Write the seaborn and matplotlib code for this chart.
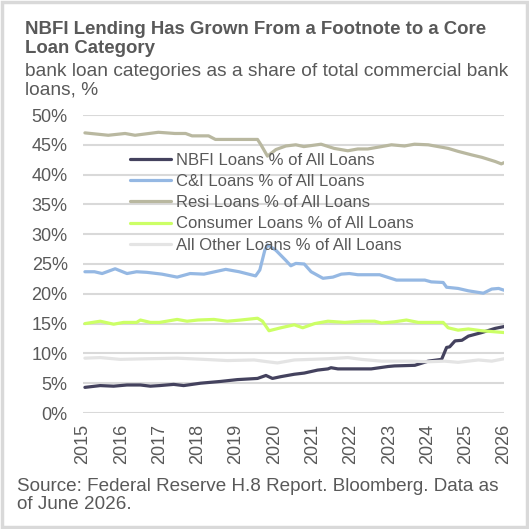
import matplotlib
matplotlib.use("Agg")
import matplotlib.pyplot as plt
from matplotlib.patches import Rectangle
import seaborn as sns
import pandas as pd

# series values (fractional year, percent)
nbfi_x = [2015.05, 2015.45, 2015.8, 2016.15, 2016.5, 2016.76, 2017.0, 2017.37, 2017.63,
          2018.07, 2018.6, 2019.03, 2019.56, 2019.78, 2019.95, 2020.17, 2020.52, 2020.78,
          2021.13, 2021.4, 2021.48, 2021.66, 2022.53, 2022.97, 2023.14, 2023.67, 2024.02,
          2024.37, 2024.5, 2024.58, 2024.72, 2024.9, 2025.07, 2025.42, 2025.77, 2026.0]
nbfi_y = [4.3, 4.6, 4.5, 4.7, 4.7, 4.5, 4.6, 4.8, 4.6,
          5.0, 5.3, 5.6, 5.8, 6.3, 5.8, 6.1, 6.5, 6.7,
          7.2, 7.4, 7.6, 7.4, 7.4, 7.8, 7.9, 8.0, 8.7,
          9.0, 11.0, 11.1, 12.1, 12.2, 12.9, 13.5, 14.2, 14.5]

ci_x = [2015.05, 2015.3, 2015.5, 2015.84, 2016.15, 2016.4, 2016.67, 2017.06, 2017.46,
        2017.8, 2018.16, 2018.73, 2019.08, 2019.51, 2019.62, 2019.75, 2019.82, 2020.04,
        2020.3, 2020.43, 2020.56, 2020.78, 2020.96, 2021.27, 2021.53, 2021.75, 2021.96,
        2022.18, 2022.75, 2023.19, 2023.93, 2024.1, 2024.41, 2024.5, 2024.8, 2025.07,
        2025.46, 2025.68, 2025.86, 2026.0]
ci_y = [23.7, 23.7, 23.4, 24.2, 23.4, 23.7, 23.6, 23.3, 22.8,
        23.4, 23.3, 24.1, 23.7, 23.0, 24.0, 27.3, 28.2, 27.3,
        25.6, 24.7, 25.1, 25.0, 23.7, 22.6, 22.8, 23.3, 23.4,
        23.2, 23.2, 22.3, 22.3, 22.0, 21.9, 21.1, 20.9, 20.5,
        20.1, 20.8, 20.9, 20.6]

resi_x = [2015.05, 2015.66, 2016.1, 2016.36, 2016.97, 2017.4, 2017.68, 2017.85, 2018.28,
          2018.46, 2019.56, 2019.65, 2019.82, 2020.04, 2020.3, 2020.56, 2020.77, 2021.22,
          2021.56, 2021.92, 2022.18, 2022.44, 2022.8, 2023.06, 2023.4, 2023.66, 2024.02,
          2024.28, 2024.54, 2024.8, 2025.16, 2025.42, 2025.77, 2025.93, 2026.0]
resi_y = [47.0, 46.6, 46.9, 46.6, 47.1, 46.9, 46.9, 46.5, 46.5,
          45.9, 45.9, 45.0, 43.1, 44.2, 44.8, 45.0, 44.7, 45.1,
          44.4, 44.0, 44.3, 44.3, 44.7, 45.0, 44.8, 45.1, 45.0,
          44.7, 44.4, 43.9, 43.3, 42.9, 42.2, 41.8, 42.0]

cons_x = [2015.05, 2015.45, 2015.8, 2016.06, 2016.4, 2016.5, 2016.76, 2017.0, 2017.46,
          2017.72, 2018.0, 2018.42, 2018.77, 2019.12, 2019.56, 2019.69, 2019.86, 2020.17,
          2020.52, 2020.74, 2021.05, 2021.4, 2021.84, 2022.27, 2022.62, 2022.8, 2023.14,
          2023.45, 2023.76, 2024.41, 2024.54, 2024.8, 2025.07, 2025.42, 2026.0]
cons_y = [15.0, 15.4, 14.9, 15.2, 15.2, 15.6, 15.2, 15.2, 15.7,
          15.4, 15.6, 15.7, 15.4, 15.6, 15.9, 15.4, 13.8, 14.3,
          14.8, 14.3, 15.0, 15.4, 15.2, 15.4, 15.4, 15.1, 15.3,
          15.6, 15.2, 15.2, 14.3, 13.9, 14.1, 13.8, 13.5]

other_x = [2015.05, 2015.45, 2015.97, 2016.67, 2017.46, 2018.16, 2018.77, 2019.47, 2019.82,
           2020.08, 2020.52, 2021.4, 2021.92, 2022.27, 2022.8, 2023.58, 2024.02, 2024.45,
           2024.8, 2025.33, 2025.68, 2026.0]
other_y = [9.2, 9.3, 9.0, 9.1, 9.2, 9.0, 8.8, 8.9, 8.6,
           8.4, 8.9, 9.1, 9.3, 9.0, 8.7, 8.7, 8.6, 8.7,
           8.5, 8.9, 8.7, 9.1]

series_names = ["NBFI Loans % of All Loans", "C&I Loans % of All Loans",
                "Resi Loans % of All Loans", "Consumer Loans % of All Loans",
                "All Other Loans % of All Loans"]
year_ticks = list(range(2015, 2027))
pct_ticks = list(range(0, 51, 5))

colors = ["#44425e", "#95b8e3", "#b9b8a0", "#ccff66", "#e4e4e4"]
txt = "#595959"

sns.set_theme(style="white")
plt.rcParams["font.family"] = ["Liberation Sans", "DejaVu Sans"]

fig = plt.figure(figsize=(5.29, 5.29), dpi=100)
ax = fig.add_axes([83 / 529, 1 - 413 / 529, 421 / 529, 298 / 529])

data = [(nbfi_x, nbfi_y), (ci_x, ci_y), (resi_x, resi_y), (cons_x, cons_y), (other_x, other_y)]
for (xs, ys), name, c in zip(data, series_names, colors):
    df = pd.DataFrame({"year": xs, "pct": ys})
    sns.lineplot(data=df, x="year", y="pct", ax=ax, color=c, lw=2.3, label=name)

ax.set_xlim(2015.0, 2026.0)
ax.set_ylim(0, 50)
ax.set_yticks(pct_ticks)
ax.set_yticklabels([f"{v}%" for v in pct_ticks])
ax.set_xticks(year_ticks)
ax.set_xticklabels([str(y) for y in year_ticks], rotation=90)
ax.tick_params(axis="both", length=0, labelsize=13, colors=txt)
ax.tick_params(axis="y", pad=11)
ax.tick_params(axis="x", pad=8)
ax.set_xlabel("")
ax.set_ylabel("")
for s in ax.spines.values():
    s.set_visible(False)
ax.grid(axis="y", color="#d9d9d9", lw=1.5)
ax.set_axisbelow(True)

leg = ax.legend(loc="upper left", bbox_to_anchor=(0.095, 0.895), frameon=False,
                fontsize=12, handlelength=2.5, handletextpad=0.3, labelspacing=0.37,
                borderaxespad=0)
for t in leg.get_texts():
    t.set_color(txt)

fig.text(25 / 529, 1 - 21 / 529, "NBFI Lending Has Grown From a Footnote to a Core\nLoan Category",
         fontsize=13.4, fontweight="bold", color=txt, va="top", ha="left", linespacing=1.12)
fig.text(25 / 529, 1 - 63 / 529, "bank loan categories as a share of total commercial bank\nloans, %",
         fontsize=13.8, color=txt, va="top", ha="left", linespacing=1.1)
fig.text(17 / 529, 1 - 478 / 529, "Source: Federal Reserve H.8 Report. Bloomberg. Data as\nof June 2026.",
         fontsize=13.6, color=txt, va="top", ha="left", linespacing=1.1)

fig.patches.append(Rectangle((0.003, 0.003), 0.994, 0.994, transform=fig.transFigure,
                             fill=False, edgecolor="#d9d9d9", lw=2.5))

fig.savefig("out.png", dpi=100)
